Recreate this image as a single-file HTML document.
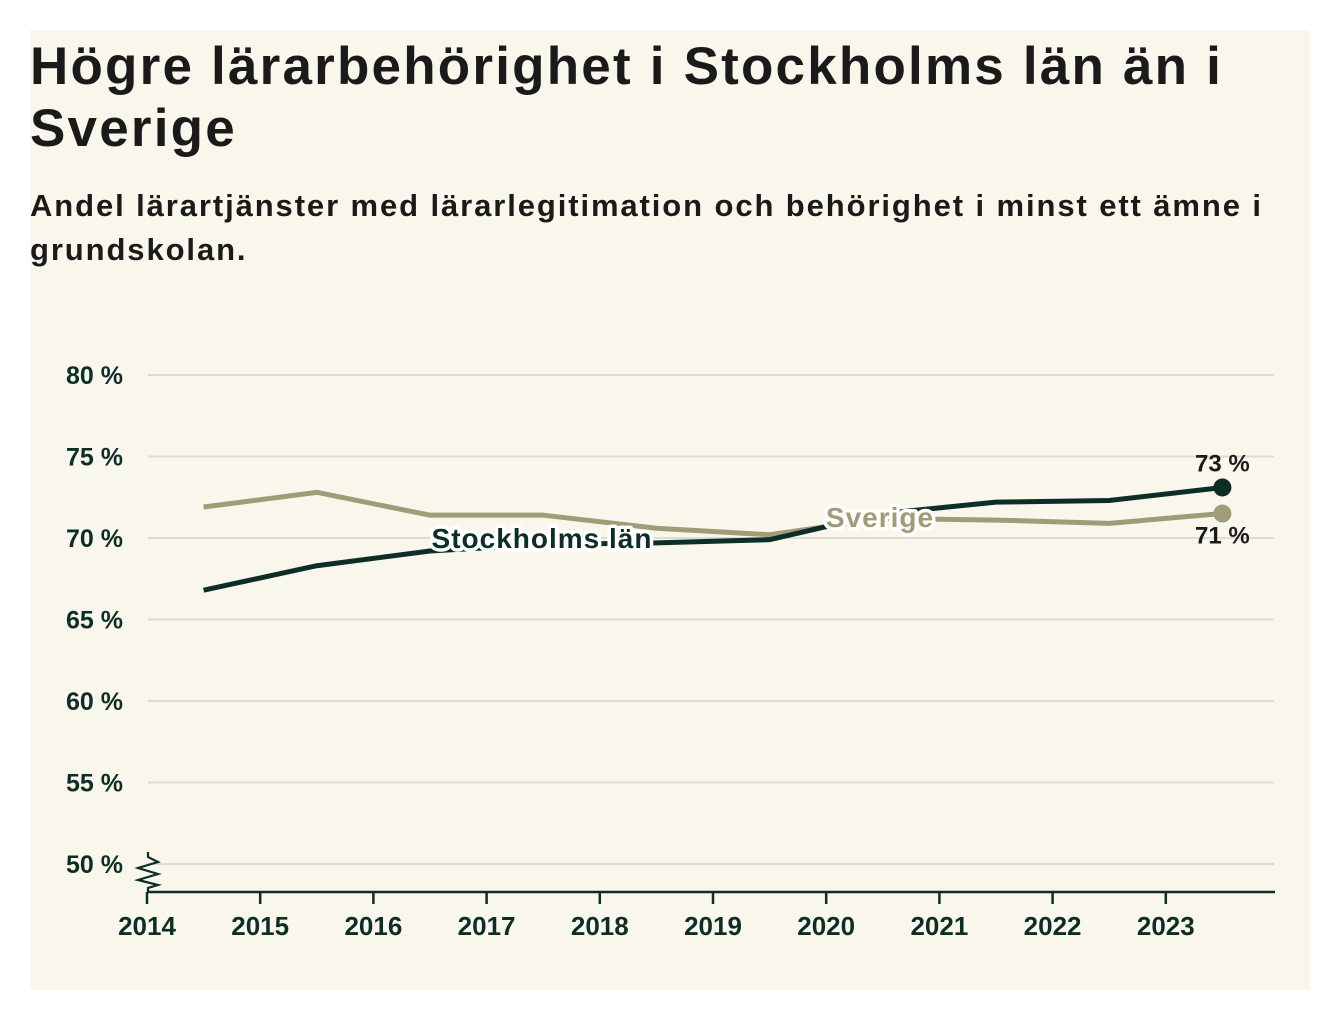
<!DOCTYPE html>
<html><head><meta charset="utf-8"><style>
body{margin:0;background:#fff;font-family:"Liberation Sans","DejaVu Sans",sans-serif;}
#card{position:absolute;left:30px;top:30px;width:1280px;height:960px;background:#f9f7ec;}
h1{position:absolute;left:30px;top:36px;margin:0;font-size:53px;line-height:62px;font-weight:bold;color:#1a1a1a;width:1270px;letter-spacing:2.2px}
h2{position:absolute;left:30px;top:184px;margin:0;font-size:31px;line-height:44px;font-weight:bold;color:#1a1a1a;width:1270px;letter-spacing:1.9px}
svg{position:absolute;left:0;top:0}
</style></head><body>
<div id="card"></div>
<h1>Högre lärarbehörighet i Stockholms län än i Sverige</h1>
<h2>Andel lärartjänster med lärarlegitimation och behörighet i minst ett ämne i grundskolan.</h2>
<svg id="chart" width="1340" height="1020"></svg>
<script>
const years=[2014,2015,2016,2017,2018,2019,2020,2021,2022,2023];
const yTicks=[50,55,60,65,70,75,80];
const stockholm=[66.8,68.3,69.2,69.6,69.7,69.9,71.5,72.2,72.3,73.1];
const sverige=[71.9,72.8,71.4,71.4,70.6,70.2,71.2,71.1,70.9,71.5];
const NS="http://www.w3.org/2000/svg";
const svg=document.getElementById('chart');
const x=v=>147+(v-2014)*113.2;
const y=v=>864-(v-50)*16.3;
function el(t,a,txt){const e=document.createElementNS(NS,t);for(const k in a)e.setAttribute(k,a[k]);if(txt!=null)e.textContent=txt;svg.appendChild(e);return e;}
yTicks.forEach(t=>{
 const g=el('line',{x1:148,x2:1274,y1:y(t),y2:y(t),stroke:'#dcdcd6','stroke-width':2});
 
 
 const l=el('text',{x:123,y:y(t)+9,'text-anchor':'end','font-size':25,'font-weight':'bold',fill:'#0d2e26'},t+' %');
 
 
});
const ax=el('line',{x1:148,x2:1275,y1:892,y2:892,stroke:'#0d2e26','stroke-width':2.5});


el('path',{d:'M148 852 L148 857 L158 862 L138 868 L158 874 L138 880 L158 885 L148 888 L148 892',fill:'none',stroke:'#0d2e26','stroke-width':2.2});
years.forEach(yr=>{
 el('line',{x1:x(yr),x2:x(yr),y1:892,y2:904,stroke:'#0d2e26','stroke-width':2.5});
 const t=el('text',{x:x(yr),y:935,'text-anchor':'middle','font-size':26,'font-weight':'bold',fill:'#0d2e26'},yr);
 
 
});
function line(data,color,name){
 const d=data.map((v,i)=>(i?'L':'M')+x(years[i]+0.5)+' '+y(v)).join(' ');
 const p=el('path',{d:d,fill:'none',stroke:color,'stroke-width':5,'stroke-linejoin':'round'});
 
 
 const n=data.length-1;
 const c=el('circle',{cx:x(years[n]+0.5),cy:y(data[n]),r:9,fill:color});
 
 
}
line(sverige,'#a09c78','sverige');
line(stockholm,'#0d2e26','stockholm');
function lab(txt,xx,yy,color,name,size,ls){
 const t=el('text',{x:xx,y:yy,'text-anchor':'middle','font-size':size,'font-weight':'bold','letter-spacing':ls,fill:color,stroke:'#fff','stroke-width':7,'paint-order':'stroke','stroke-linejoin':'round'},txt);
 
 
}
lab('Stockholms län',542,548,'#0d2e26','stockholm-label',28,1);
lab('Sverige',880,527,'#a09c78','sverige-label',28,1);
const n=stockholm.length-1;
const e1=el('text',{x:x(years[n]+0.5),y:y(stockholm[n])-16,'text-anchor':'middle','font-size':24,'font-weight':'bold',fill:'#1a1a1a'},Math.round(stockholm[n])+' %');


const e2=el('text',{x:x(years[n]+0.5),y:y(sverige[n])+30,'text-anchor':'middle','font-size':24,'font-weight':'bold',fill:'#1a1a1a'},Math.floor(sverige[n])+' %');


</script>
</body></html>
